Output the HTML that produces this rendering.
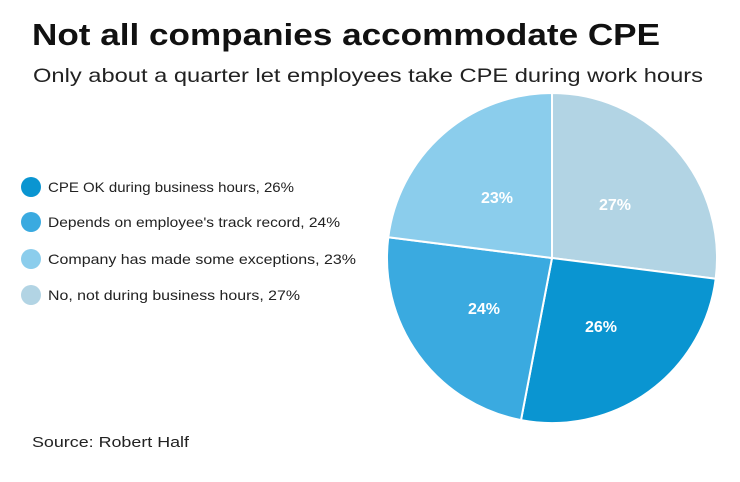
<!DOCTYPE html>
<html><head><style>
body{margin:0;width:740px;height:482px;background:#fff;overflow:hidden;font-family:"Liberation Sans",sans-serif;color:#1a1a1a}
</style></head><body>
<svg width="740" height="482" xmlns="http://www.w3.org/2000/svg" style="position:absolute;left:0;top:0">
<text x="32" y="45" font-family="Liberation Sans" font-weight="bold" font-size="31" fill="#111" textLength="628" lengthAdjust="spacingAndGlyphs">Not all companies accommodate CPE</text>
<text x="33" y="82" font-family="Liberation Sans" font-size="19.5" fill="#222" textLength="670" lengthAdjust="spacingAndGlyphs">Only about a quarter let employees take CPE during work hours</text>
<g stroke="#fff" stroke-width="2">
<path d="M552,258 L552,93 A165,165 0 0 1 715.7,278.7 Z" fill="#b2d4e4"/>
<path d="M552,258 L715.7,278.7 A165,165 0 0 1 521,420.1 Z" fill="#0a95d1"/>
<path d="M552,258 L521,420.1 A165,165 0 0 1 388.3,237.3 Z" fill="#3aaae0"/>
<path d="M552,258 L388.3,237.3 A165,165 0 0 1 552,93 Z" fill="#8bcdec"/>
</g>
<g font-family="Liberation Sans" font-weight="bold" font-size="16" fill="#fff" text-anchor="middle">
<text x="615" y="210">27%</text>
<text x="601" y="332">26%</text>
<text x="484" y="314">24%</text>
<text x="497" y="203">23%</text>
</g>
<circle cx="31" cy="187" r="10" fill="#0a95d1"/>
<circle cx="31" cy="222" r="10" fill="#3aaae0"/>
<circle cx="31" cy="259" r="10" fill="#8bcdec"/>
<circle cx="31" cy="295" r="10" fill="#b2d4e4"/>
<g font-family="Liberation Sans" font-size="14" fill="#222">
<text x="48" y="192" textLength="246" lengthAdjust="spacingAndGlyphs">CPE OK during business hours, 26%</text>
<text x="48" y="227" textLength="292" lengthAdjust="spacingAndGlyphs">Depends on employee's track record, 24%</text>
<text x="48" y="264" textLength="308" lengthAdjust="spacingAndGlyphs">Company has made some exceptions, 23%</text>
<text x="48" y="300" textLength="252" lengthAdjust="spacingAndGlyphs">No, not during business hours, 27%</text>
</g>
<text x="32" y="447" font-family="Liberation Sans" font-size="15" fill="#222" textLength="157" lengthAdjust="spacingAndGlyphs">Source: Robert Half</text>
</svg>
</body></html>
